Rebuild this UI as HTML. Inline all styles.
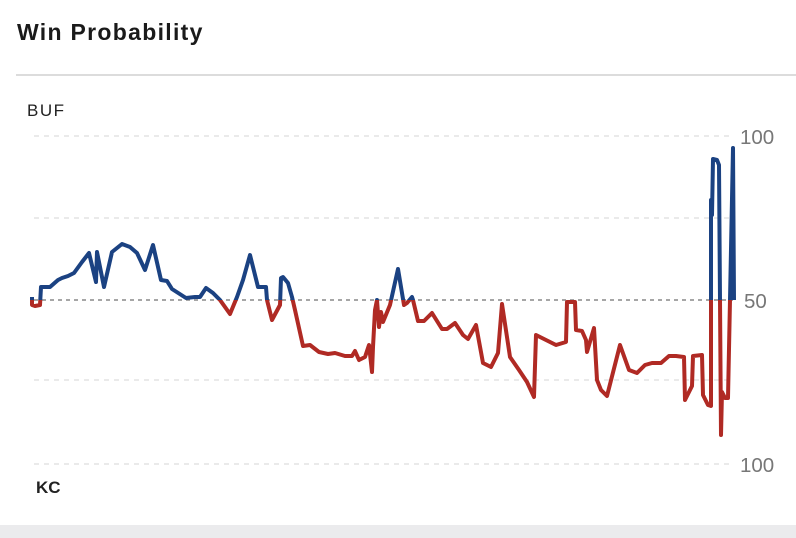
<!DOCTYPE html>
<html><head><meta charset="utf-8"><style>
html,body{margin:0;padding:0;background:#fff;}
body{width:796px;height:538px;position:relative;overflow:hidden;font-family:"Liberation Sans",sans-serif;}
.bottom{position:absolute;left:0;top:525px;width:796px;height:13px;background:#ebebed;}
.card{position:absolute;left:0;top:0;width:796px;height:525px;background:#fff;border-bottom-left-radius:14px;}
</style></head><body>
<div class="bottom"></div><div class="card"></div>
<svg width="796" height="538" style="position:absolute;left:0;top:0">
<text x="17" y="40" font-size="23" font-weight="bold" fill="#1a1a1a" letter-spacing="1.3" font-family="Liberation Sans, sans-serif">Win Probability</text>
<line x1="16" y1="75" x2="796" y2="75" stroke="#dcdcdc" stroke-width="2"/>
<text x="27" y="116" font-size="17" fill="#222" font-family="Liberation Sans, sans-serif" letter-spacing="1.5">BUF</text>
<text x="36" y="493" font-size="17" font-weight="bold" fill="#222" font-family="Liberation Sans, sans-serif">KC</text>
<g stroke="#e3e3e3" stroke-width="1.5" stroke-dasharray="5,5">
<line x1="34" y1="136" x2="733" y2="136"/><line x1="34" y1="218" x2="733" y2="218"/>
<line x1="34" y1="380" x2="733" y2="380"/><line x1="34" y1="464" x2="733" y2="464"/>
</g>
<line x1="34" y1="300" x2="733" y2="300" stroke="#888" stroke-width="1.5" stroke-dasharray="4,4"/>
<g font-size="20.5" fill="#777" font-family="Liberation Sans, sans-serif">
<text x="740" y="144">100</text><text x="744" y="308">50</text><text x="740" y="472">100</text></g>
<defs>
<clipPath id="top"><rect x="0" y="0" width="796" height="300"/></clipPath>
<clipPath id="bot"><rect x="0" y="300" width="796" height="238"/></clipPath>
<polyline id="wp" fill="none" stroke-width="4" stroke-linejoin="round" points="32,297 32,305 35,306 40,305 41,287 50,287 58,280 62,278 68,276 74,273 82,262 89,253 96,282 97,252 104,287 112,252 122,244 130,247 137,253 145,270 153,245 161,280 167,281 172,289 186,298 195,297 200,297 206,288 213,293 220,300 230,314 237,297 243,280 250,255 258,287 266,287 267,300 272,320 280,305 281,278 283,277 288,283 292,297 295,310 303,346 310,345 319,352 328,354 335,353 345,356 352,356 355,351 359,360 365,357 369,345 372,372 373,347 375,310 377,300 379,327 381,312 383,322 390,305 398,269 404,305 407,303 412,297 413,300 418,321 424,321 432,313 442,329 447,329 455,323 463,335 468,339 476,325 483,363 491,367 498,353 502,304 510,357 519,370 527,382 534,397 536,335 546,340 556,345 566,342 567,302 575,302 576,330 582,331 586,340 587,352 594,328 597,380 601,390 607,396 620,345 629,370 637,373 645,365 652,363 661,363 669,356 676,356 684,357 685,400 692,386 693,356 702,355 703,395 708,405 711,406 711,200 712,215 713,159 717,160 719,165 721,435 722,392 725,398 728,398 730,300 733,148 734,300"/>
</defs>
<use href="#wp" stroke="#1b4282" clip-path="url(#top)"/>
<use href="#wp" stroke="#b02a24" clip-path="url(#bot)"/>
</svg>
</body></html>
